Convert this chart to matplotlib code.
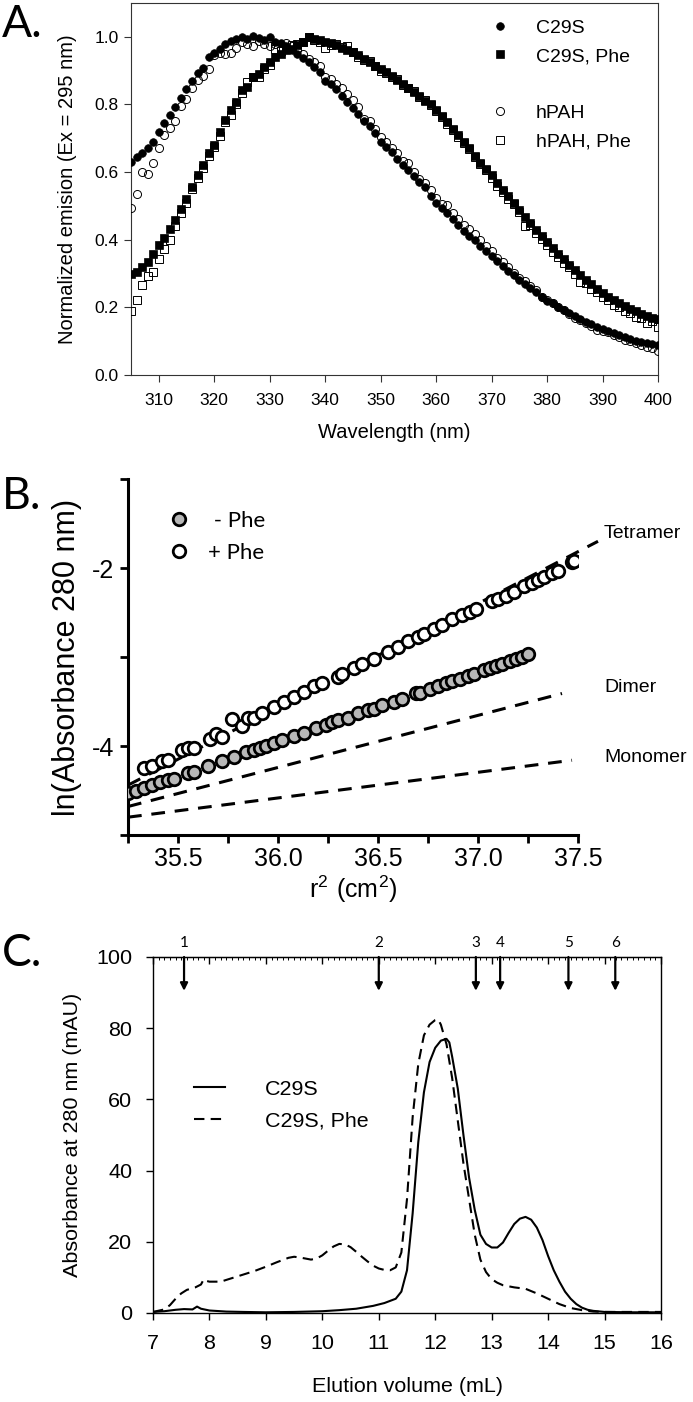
import matplotlib
matplotlib.use("Agg")
import matplotlib.pyplot as plt
from matplotlib.lines import Line2D
from matplotlib.ticker import MultipleLocator, FuncFormatter
from matplotlib import font_manager

# ---------------- data ----------------
# Panel A: wavelength (nm) 305..400, 1 nm steps
wavelength = list(range(305, 401))
c29s = [0.630, 0.645, 0.655, 0.672, 0.690, 0.718, 0.745, 0.768, 0.792, 0.820,
        0.845, 0.868, 0.893, 0.908, 0.940, 0.952, 0.965, 0.978, 0.988, 0.995,
        0.998, 0.995, 1.002, 0.996, 0.992, 0.998, 0.985, 0.982, 0.972, 0.962,
        0.950, 0.938, 0.925, 0.912, 0.895, 0.868, 0.860, 0.845, 0.826, 0.808,
        0.790, 0.772, 0.752, 0.735, 0.715, 0.690, 0.675, 0.658, 0.640, 0.622,
        0.605, 0.588, 0.570, 0.555, 0.530, 0.508, 0.495, 0.480, 0.462, 0.445,
        0.425, 0.412, 0.398, 0.382, 0.366, 0.352, 0.336, 0.322, 0.308, 0.295,
        0.282, 0.270, 0.258, 0.245, 0.232, 0.220, 0.212, 0.200, 0.192, 0.182,
        0.174, 0.165, 0.158, 0.150, 0.143, 0.136, 0.130, 0.124, 0.118, 0.112,
        0.107, 0.102, 0.098, 0.094, 0.091, 0.088]
c29s_phe = [0.300, 0.305, 0.320, 0.335, 0.358, 0.385, 0.405, 0.432, 0.458, 0.492,
            0.520, 0.555, 0.590, 0.622, 0.655, 0.680, 0.718, 0.755, 0.785, 0.808,
            0.842, 0.852, 0.882, 0.890, 0.912, 0.925, 0.940, 0.950, 0.962, 0.965,
            0.975, 0.985, 1.000, 0.995, 0.992, 0.985, 0.982, 0.975, 0.968, 0.962,
            0.955, 0.945, 0.935, 0.925, 0.915, 0.905, 0.895, 0.885, 0.872, 0.860,
            0.850, 0.838, 0.825, 0.810, 0.800, 0.785, 0.765, 0.748, 0.728, 0.710,
            0.690, 0.670, 0.648, 0.628, 0.610, 0.590, 0.568, 0.548, 0.528, 0.508,
            0.488, 0.468, 0.448, 0.428, 0.410, 0.392, 0.375, 0.358, 0.342, 0.325,
            0.310, 0.296, 0.282, 0.268, 0.255, 0.243, 0.232, 0.222, 0.212, 0.203,
            0.195, 0.188, 0.181, 0.175, 0.170, 0.165]
hpah = [0.495, 0.535, 0.600, 0.595, 0.628, 0.672, 0.710, 0.730, 0.752, 0.795,
        0.815, 0.848, 0.872, 0.885, 0.905, 0.945, 0.952, 0.950, 0.953, 0.968,
        0.985, 0.978, 0.972, 0.988, 0.978, 0.972, 0.978, 0.968, 0.982, 0.972,
        0.962, 0.948, 0.935, 0.925, 0.915, 0.880, 0.875, 0.860, 0.848, 0.830,
        0.812, 0.792, 0.758, 0.750, 0.728, 0.705, 0.690, 0.672, 0.655, 0.632,
        0.628, 0.600, 0.580, 0.568, 0.548, 0.522, 0.505, 0.502, 0.478, 0.462,
        0.445, 0.432, 0.418, 0.398, 0.380, 0.368, 0.345, 0.335, 0.318, 0.302,
        0.288, 0.278, 0.262, 0.250, 0.232, 0.222, 0.212, 0.202, 0.192, 0.180,
        0.170, 0.162, 0.155, 0.146, 0.132, 0.130, 0.126, 0.118, 0.112, 0.104,
        0.100, 0.094, 0.090, 0.084, 0.080, 0.072]
hpah_phe = [0.190, 0.222, 0.265, 0.292, 0.305, 0.342, 0.372, 0.400, 0.442, 0.478,
            0.508, 0.550, 0.582, 0.612, 0.648, 0.675, 0.708, 0.748, 0.770, 0.800,
            0.835, 0.865, 0.880, 0.882, 0.905, 0.918, 0.965, 0.958, 0.965, 0.975,
            0.980, 0.985, 0.998, 0.992, 0.985, 0.968, 0.975, 0.978, 0.970, 0.972,
            0.955, 0.940, 0.930, 0.928, 0.915, 0.900, 0.892, 0.880, 0.875, 0.858,
            0.850, 0.840, 0.822, 0.812, 0.798, 0.780, 0.762, 0.742, 0.725, 0.705,
            0.685, 0.668, 0.645, 0.625, 0.605, 0.582, 0.560, 0.540, 0.520, 0.505,
            0.482, 0.440, 0.445, 0.420, 0.402, 0.385, 0.365, 0.350, 0.332, 0.318,
            0.300, 0.275, 0.272, 0.255, 0.245, 0.232, 0.222, 0.208, 0.200, 0.188,
            0.182, 0.172, 0.170, 0.155, 0.160, 0.142]

# Panel B: r^2 (cm^2) vs ln(A280)
r2_minus = [35.25, 35.29, 35.33, 35.37, 35.41, 35.45, 35.48, 35.55, 35.58, 35.65,
            35.72, 35.78, 35.84, 35.88, 35.91, 35.94, 35.98, 36.02, 36.08, 36.13,
            36.19, 36.24, 36.27, 36.30, 36.35, 36.40, 36.45, 36.48, 36.52, 36.58,
            36.62, 36.69, 36.71, 36.76, 36.80, 36.84, 36.87, 36.91, 36.95, 36.98,
            37.03, 37.06, 37.09, 37.12, 37.16, 37.19, 37.22, 37.25]
ln_minus = [-4.53, -4.50, -4.47, -4.44, -4.41, -4.38, -4.37, -4.30, -4.29, -4.23,
            -4.17, -4.12, -4.07, -4.04, -4.02, -4.00, -3.97, -3.93, -3.89, -3.85,
            -3.80, -3.76, -3.73, -3.71, -3.68, -3.63, -3.60, -3.58, -3.54, -3.50,
            -3.47, -3.40, -3.40, -3.36, -3.33, -3.29, -3.27, -3.25, -3.21, -3.19,
            -3.15, -3.12, -3.10, -3.08, -3.05, -3.02, -3.00, -2.97]
r2_plus = [35.33, 35.37, 35.42, 35.45, 35.52, 35.55, 35.58, 35.66, 35.69, 35.72,
           35.77, 35.82, 35.85, 35.88, 35.92, 35.98, 36.03, 36.08, 36.13, 36.18,
           36.22, 36.30, 36.32, 36.38, 36.42, 36.48, 36.55, 36.60, 36.65, 36.70,
           36.73, 36.78, 36.82, 36.87, 36.92, 36.96, 36.99, 37.07, 37.10, 37.14,
           37.18, 37.23, 37.27, 37.30, 37.33, 37.37, 37.40, 37.47, 37.48]
ln_plus = [-4.25, -4.23, -4.17, -4.16, -4.05, -4.02, -4.02, -3.92, -3.87, -3.90,
           -3.70, -3.78, -3.68, -3.68, -3.63, -3.56, -3.50, -3.45, -3.39, -3.33,
           -3.29, -3.22, -3.19, -3.12, -3.08, -3.02, -2.94, -2.89, -2.82, -2.77,
           -2.74, -2.69, -2.64, -2.57, -2.53, -2.49, -2.46, -2.37, -2.35, -2.31,
           -2.27, -2.20, -2.17, -2.14, -2.10, -2.06, -2.03, -1.93, -1.92]
model_names = ["Tetramer", "Dimer", "Monomer"]
model_r2 = [[35.25, 37.60], [35.25, 37.42], [35.25, 37.47]]
model_ln = [[-4.44, -1.70], [-4.68, -3.41], [-4.80, -4.16]]

# Panel C: elution profiles
vol_c29s = [7.0, 7.2, 7.4, 7.55, 7.7, 7.78, 7.85, 8.0, 8.3, 8.6, 9.0, 9.5, 10.0,
            10.3, 10.6, 10.9, 11.1, 11.3, 11.4, 11.5, 11.6, 11.7, 11.8, 11.9, 12.0,
            12.1, 12.2, 12.25, 12.3, 12.4, 12.5, 12.6, 12.7, 12.8, 12.9, 13.0, 13.1,
            13.2, 13.3, 13.4, 13.5, 13.6, 13.7, 13.8, 13.9, 14.0, 14.1, 14.2, 14.3,
            14.4, 14.5, 14.6, 14.7, 14.8, 15.0, 15.5, 16.0]
abs_c29s = [0.3, 0.5, 0.9, 1.1, 1.0, 1.8, 1.2, 0.7, 0.4, 0.3, 0.2, 0.3, 0.5,
            0.8, 1.2, 2.0, 2.8, 4.0, 6.0, 12.0, 28.0, 48.0, 62.0, 70.5, 74.5,
            76.5, 77.0, 76.0, 72.0, 63.0, 50.0, 38.0, 29.0, 22.0, 19.4, 18.4, 18.4,
            19.8, 22.5, 25.0, 26.5, 27.0, 26.2, 24.0, 20.5, 16.0, 12.0, 8.8, 6.0,
            4.0, 2.5, 1.5, 0.9, 0.6, 0.3, 0.2, 0.2]
vol_phe = [7.0, 7.2, 7.3, 7.4, 7.5, 7.6, 7.75, 7.85, 7.9, 7.95, 8.0, 8.2, 8.4, 8.6,
           8.8, 9.0, 9.2, 9.4, 9.5, 9.6, 9.8, 9.9, 10.0, 10.1, 10.2, 10.3, 10.4,
           10.5, 10.6, 10.7, 10.8, 10.9, 11.0, 11.1, 11.2, 11.3, 11.4, 11.5, 11.6,
           11.7, 11.8, 11.9, 12.0, 12.05, 12.1, 12.2, 12.3, 12.4, 12.5, 12.6, 12.7,
           12.8, 12.9, 13.0, 13.1, 13.2, 13.4, 13.6, 13.8, 14.0, 14.2, 14.4, 14.6,
           14.8, 15.0, 16.0]
abs_phe = [0.3, 1.0, 2.2, 4.0, 5.5, 6.5, 7.2, 8.0, 9.5, 9.0, 8.8, 8.8, 9.8, 10.8,
           11.8, 13.0, 14.3, 15.5, 15.8, 15.6, 15.0, 15.3, 16.2, 17.5, 18.7, 19.4,
           19.3, 18.5, 17.2, 15.8, 14.5, 13.3, 12.5, 12.1, 12.0, 12.8, 17.0, 32.0,
           55.0, 70.0, 78.0, 81.0, 82.3, 82.5, 81.0, 75.5, 66.0, 54.0, 42.0, 32.0,
           22.0, 15.0, 11.5, 9.5, 8.5, 7.8, 7.2, 6.8, 5.5, 4.0, 2.5, 1.4, 0.8, 0.4,
           0.3, 0.3]
marker_vol = [7.55, 11.0, 12.72, 13.15, 14.36, 15.19]
marker_lbl = ["1", "2", "3", "4", "5", "6"]

# ---------------- fonts ----------------
names = {f.name for f in font_manager.fontManager.ttflist}
SANS = "Liberation Sans" if "Liberation Sans" in names else "DejaVu Sans"
HAS_NARROW = "Liberation Sans Narrow" in names
NARROW = "Liberation Sans Narrow" if HAS_NARROW else SANS
NSCALE = 1.0 if HAS_NARROW else 0.86
CAL = "Lato" if "Lato" in names else SANS
plt.rcParams["font.family"] = [SANS, "DejaVu Sans"]

W, H = 693, 1402
fig = plt.figure(figsize=(W / 100, H / 100), dpi=100)


def rect(l, r, t, b):
    return [l / W, 1 - b / H, (r - l) / W, (b - t) / H]


# ---------------- Panel A ----------------
axA = fig.add_axes(rect(131, 658, 3, 375))
axA.plot(wavelength, c29s, "o", ms=5.5, mfc="k", mec="k", mew=0.5, label="C29S", zorder=3)
axA.plot(wavelength, c29s_phe, "s", ms=5.3, mfc="k", mec="k", mew=0.5, label="C29S, Phe", zorder=3)
axA.plot(wavelength, hpah, "o", ms=5.8, mfc="none", mec="k", mew=0.7, label="hPAH", zorder=4)
axA.plot(wavelength, hpah_phe, "s", ms=5.6, mfc="none", mec="k", mew=0.7, label="hPAH, Phe", zorder=4)
axA.set_xlim(305, 400)
axA.set_ylim(0, 1.1)
axA.set_xticks(range(310, 401, 10))
axA.set_yticks([0, 0.2, 0.4, 0.6, 0.8, 1.0])
axA.yaxis.set_major_formatter(FuncFormatter(lambda v, p: f"{v:.1f}"))
axA.tick_params(direction="out", length=5, width=0.8, labelsize=12.5, pad=4, color="#333333")
axA.tick_params(axis="x", pad=8)
for s in axA.spines.values():
    s.set_linewidth(0.8)
    s.set_color("#333333")
axA.set_xlabel("Wavelength (nm)", fontsize=14.5)
axA.set_ylabel("Normalized emision (Ex = 295 nm)", fontsize=14.5)
axA.xaxis.label.set_va("center")
axA.yaxis.label.set_va("center")
axA.xaxis.set_label_coords(0.5, -(433 - 375) / 372)
axA.yaxis.set_label_coords((68 - 131) / 527, 0.5)
hA = axA.get_lines()
blank = Line2D([], [], linestyle="none", marker=None)
axA.legend([hA[0], hA[1], blank, hA[2], hA[3]],
           ["C29S", "C29S, Phe", "", "hPAH", "hPAH, Phe"],
           loc="upper left", bbox_to_anchor=((490 - 131) / 527, 1 - (19 - 3) / 372),
           frameon=False, fontsize=14, handlelength=1.0, handletextpad=1.35,
           labelspacing=0.56, borderpad=0, borderaxespad=0)

# ---------------- Panel B ----------------
axB = fig.add_axes(rect(128, 578, 479, 835))
axB.plot(r2_plus, ln_plus, "o", ms=9, mfc="white", mec="k", mew=2.0, label="+ Phe", zorder=4)
axB.plot(r2_minus, ln_minus, "o", ms=9, mfc="#b8b8b8", mec="k", mew=2.0, label=" - Phe", zorder=4)
for xs, ys in zip(model_r2, model_ln):
    axB.plot(xs, ys, linestyle=(0, (4.5, 3.2)), color="k", lw=2.2, clip_on=False, zorder=2)
for name, ypx in zip(model_names, [533, 688, 758]):
    fig.text(604 / W, 1 - ypx / H, name, fontsize=14, ha="left", va="center")
axB.set_xlim(35.25, 37.5)
axB.set_ylim(-5, -1)
axB.xaxis.set_major_locator(MultipleLocator(0.25))
axB.xaxis.set_major_formatter(FuncFormatter(
    lambda v, p: f"{v:.1f}" if abs(v * 2 - round(v * 2)) < 1e-6 else ""))
axB.set_yticks([-5, -4, -3, -2, -1])
axB.set_yticklabels(["", "-4", "", "-2", ""])
axB.tick_params(direction="out", length=6, width=2, labelsize=18, pad=3)
axB.tick_params(axis="y", pad=4)
for s in ["top", "right"]:
    axB.spines[s].set_visible(False)
for s in ["left", "bottom"]:
    axB.spines[s].set_linewidth(2.2)
axB.set_xlabel(r"$\mathregular{r^2\ (cm^2)}$", fontsize=18)
axB.set_ylabel("ln(Absorbance 280 nm)", fontsize=22)
axB.xaxis.label.set_va("center")
axB.yaxis.label.set_va("center")
axB.xaxis.set_label_coords(0.5, -(889 - 835) / 356)
axB.yaxis.set_label_coords((67 - 128) / 450, 0.5)
hB = axB.get_lines()
axB.legend([hB[1], hB[0]], [" - Phe", "+ Phe"], loc="upper left",
           bbox_to_anchor=((170 - 128) / 450, 1 - (511 - 479) / 356),
           frameon=False, handlelength=0.8, handletextpad=0.9,
           labelspacing=0.55, borderpad=0, borderaxespad=0,
           prop={"family": CAL, "size": 16})

# ---------------- Panel C ----------------
axC = fig.add_axes(rect(153, 661, 957, 1313))
axC.plot(vol_c29s, abs_c29s, "-", color="k", lw=1.5, label="C29S")
axC.plot(vol_phe, abs_phe, color="k", lw=1.5, linestyle=(0, (5, 3)), label="C29S, Phe")
axC.set_xlim(7, 16)
axC.set_ylim(0, 100)
axC.set_xticks(range(7, 17))
axC.set_yticks(range(0, 101, 20))
axC.tick_params(direction="out", length=5, width=1.0, labelsize=18 * NSCALE,
                labelfontfamily=NARROW)
axC.tick_params(axis="x", pad=10)
axC.tick_params(axis="y", pad=10)
for s in axC.spines.values():
    s.set_linewidth(1.0)
top = axC.secondary_xaxis("top")
top.set_xticks(range(7, 17))
top.xaxis.set_minor_locator(MultipleLocator(0.1))
top.tick_params(which="major", direction="in", length=5, width=1.0, labelbottom=False,
                labeltop=False)
top.tick_params(which="minor", direction="in", length=2.5, width=0.7)
for xv, lb in zip(marker_vol, marker_lbl):
    axC.annotate("", xy=(xv, 90.5), xytext=(xv, 100),
                 arrowprops=dict(arrowstyle="-|>", color="k", lw=1.6, mutation_scale=11,
                                 shrinkA=0, shrinkB=0))
    axC.annotate(lb, xy=(xv, 100), xytext=(0, 5), textcoords="offset points",
                 ha="center", va="bottom", fontsize=11, family=CAL, annotation_clip=False)
axC.set_xlabel("Elution volume (mL)", fontsize=18 * NSCALE, family=NARROW)
axC.set_ylabel("Absorbance at 280 nm (mAU)", fontsize=18 * NSCALE, family=NARROW)
axC.xaxis.label.set_va("center")
axC.yaxis.label.set_va("center")
axC.xaxis.set_label_coords(0.5, -(1387 - 1313) / 356)
axC.yaxis.set_label_coords((73 - 153) / 508, 0.5)
axC.legend(loc="upper left", bbox_to_anchor=(0.08, 0.655), frameon=False,
           handlelength=1.45, handletextpad=1.85, labelspacing=0.6,
           borderpad=0, borderaxespad=0,
           prop={"family": NARROW, "size": 18 * NSCALE})

# ---------------- panel letters ----------------
for lbl, ypx in [("A.", 4), ("B.", 476), ("C.", 933)]:
    fig.text(2 / W, 1 - ypx / H, lbl, fontsize=32, family=CAL, ha="left", va="top")

fig.savefig("out.png", dpi=100)
